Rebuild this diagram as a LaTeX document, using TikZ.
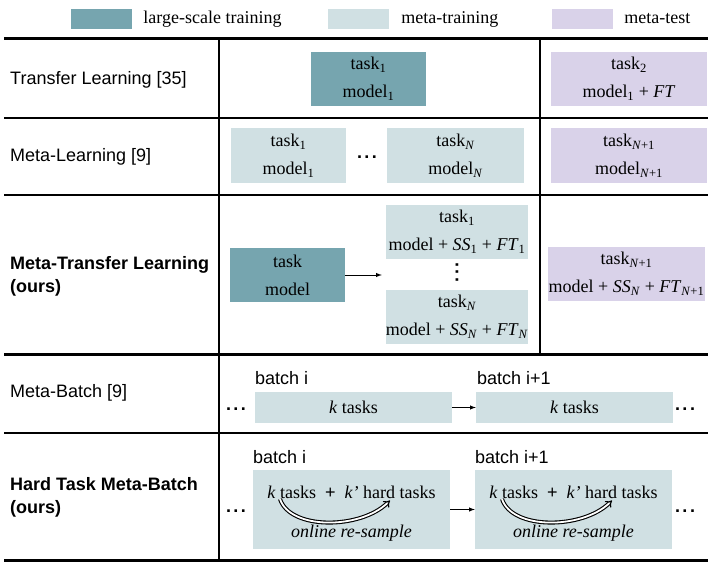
\documentclass[tikz,border=0pt]{standalone}
\usepackage{fontspec}
\setmainfont{Liberation Serif}
\setsansfont{Liberation Sans}
\usetikzlibrary{arrows.meta,positioning}

\definecolor{largecol}{HTML}{76A5AF}
\definecolor{traincol}{HTML}{D0E0E3}
\definecolor{testcol}{HTML}{D9D2E9}

\newcommand{\threedots}{.\hspace{2.5pt}.\hspace{2.5pt}.}

\begin{document}
\begin{tikzpicture}
  [x=1pt, y=-1pt,
  thickrule/.style={line width=3pt},
  thinrule/.style={line width=1.4pt},
  line/.style={draw, -latex, line width=1pt},
  box/.style={rectangle, inner sep=0pt, align=center, font=\fontsize{18}{28}\selectfont},
  large/.style={box, fill=largecol},
  train/.style={box, fill=traincol},
  test/.style={box, fill=testcol},
  rowlabel/.style={anchor=west, inner sep=0pt, align=left, font=\sffamily\fontsize{18}{23}\selectfont},
  batchlabel/.style={anchor=west, inner sep=0pt, font=\sffamily\fontsize{18}{22}\selectfont},
  legend/.style={anchor=west, inner sep=0pt, font=\fontsize{18}{20}\selectfont},
  swatch/.style={rectangle, minimum width=61pt, minimum height=20pt, inner sep=0pt},
  dots/.style={inner sep=0pt, font=\sffamily\bfseries\fontsize{18}{20}\selectfont},
  resample/.style={draw, double, double distance=1.8pt, line width=1.1pt, -{Implies}}]
  \useasboundingbox (0,0) rectangle (708,564);

  % legend
  \node [swatch, fill=largecol] (leglarge) at (101.5,19) {};
  \node [legend, right=11pt of leglarge] (leglargetext) {large-scale training};
  \node [swatch, fill=traincol] (legtrain) at (358.5,19) {};
  \node [legend, right=12pt of legtrain] (legtraintext) {meta-training};
  \node [swatch, fill=testcol] (legtest) at (582.5,19) {};
  \node [legend, right=11pt of legtest] (legtesttext) {meta-test};

  % rules
  \draw [thickrule] (4,39) -- (708,39);
  \draw [thinrule] (4,118) -- (708,118);
  \draw [thinrule] (4,195) -- (708,195);
  \draw [thickrule] (4,354) -- (708,354);
  \draw [thinrule] (4,433) -- (708,433);
  \draw [thickrule] (4,560) -- (708,560);
  \draw [thinrule] (219,39) -- (219,560);
  \draw [thinrule] (540,39) -- (540,354);

  % row labels
  \node [rowlabel] (tllabel) at (10,80) {Transfer Learning [35]};
  \node [rowlabel] (mllabel) at (10,157) {Meta-Learning [9]};
  \node [rowlabel, font=\sffamily\bfseries\fontsize{18}{23}\selectfont] (mtllabel) at (10,276) {Meta-Transfer Learning\\(ours)};
  \node [rowlabel] (mblabel) at (10,393) {Meta-Batch [9]};
  \node [rowlabel, font=\sffamily\bfseries\fontsize{18}{23}\selectfont] (htlabel) at (10,497) {Hard Task Meta-Batch\\(ours)};

  % transfer learning
  \node [large, minimum width=115pt, minimum height=54pt] (tltrain) at (368.5,79) {task\textsubscript{1}\\model\textsubscript{1}};
  \node [test, minimum width=156pt, minimum height=54pt] (tltest) at (629,79) {task\textsubscript{2}\\model\textsubscript{1} + \textit{FT}};

  % meta-learning
  \node [train, minimum width=115pt, minimum height=55pt] (mlfirst) at (288.5,155.5) {task\textsubscript{1}\\model\textsubscript{1}};
  \node [dots, anchor=base] (mldots) at (367,158) {\threedots};
  \node [train, minimum width=137pt, minimum height=55pt] (mllast) at (455.5,155.5) {task\textsubscript{\textit{N}}\\model\textsubscript{\textit{N}}};
  \node [test, minimum width=156pt, minimum height=55pt] (mltest) at (629,155.5) {task\textsubscript{\textit{N}+1}\\model\textsubscript{\textit{N}+1}};

  % meta-transfer learning
  \node [large, minimum width=115pt, minimum height=54pt] (mtlbase) at (287.5,275) {task\\model};
  \node [train, minimum width=142pt, minimum height=54pt] (mtlfirst) at (457,232) {task\textsubscript{1}\\model + \textit{SS}\textsubscript{1} + \textit{FT}\textsubscript{1}};
  \node [dots, rotate=90] (mtldots) at (457,272) {\threedots};
  \node [train, minimum width=142pt, minimum height=54pt] (mtllast) at (457,317) {task\textsubscript{\textit{N}}\\model + \textit{SS}\textsubscript{\textit{N}} + \textit{FT}\textsubscript{\textit{N}}};
  \node [test, minimum width=157pt, minimum height=54pt] (mtltest) at (626.5,274) {task\textsubscript{\textit{N}+1}\\model + \textit{SS}\textsubscript{\textit{N}} + \textit{FT}\textsubscript{\textit{N}+1}};

  % meta-batch
  \node [batchlabel] (mbfirstlabel) at (255,378) {batch i};
  \node [batchlabel] (mbnextlabel) at (477,378) {batch i+1};
  \node [train, minimum width=197pt, minimum height=31pt] (mbfirst) at (353.5,407.5) {\textit{k} tasks};
  \node [train, minimum width=197pt, minimum height=31pt] (mbnext) at (574.5,407.5) {\textit{k} tasks};
  \node [dots, anchor=base] (mbdotsleft) at (236,410) {\threedots};
  \node [dots, anchor=base] (mbdotsright) at (685,410) {\threedots};

  % hard task meta-batch
  \node [batchlabel] (htfirstlabel) at (253,457) {batch i};
  \node [batchlabel] (htnextlabel) at (475,457) {batch i+1};
  \node [train, minimum width=197pt, minimum height=79pt] (htfirst) at (351.5,509.5) {};
  \node [train, minimum width=197pt, minimum height=79pt] (htnext) at (573.5,509.5) {};
  \node [box, yshift=17.5pt] (htfirsttop) at (htfirst) {\textit{k} tasks\ \ \textsf{+}\ \ \textit{k’} hard tasks};
  \node [box, yshift=-23.5pt] (htfirstbot) at (htfirst) {\textit{online re-sample}};
  \node [box, yshift=17.5pt] (htnexttop) at (htnext) {\textit{k} tasks\ \ \textsf{+}\ \ \textit{k’} hard tasks};
  \node [box, yshift=-23.5pt] (htnextbot) at (htnext) {\textit{online re-sample}};
  \coordinate [xshift=-71.5pt, yshift=10.5pt] (htfirsts) at (htfirst);
  \coordinate [xshift=38.5pt, yshift=9pt] (htfirste) at (htfirst);
  \coordinate [xshift=-71.5pt, yshift=10.5pt] (htnexts) at (htnext);
  \coordinate [xshift=38.5pt, yshift=9pt] (htnexte) at (htnext);
  \node [dots, anchor=base] (htdotsleft) at (236,512) {\threedots};
  \node [dots, anchor=base] (htdotsright) at (685,512) {\threedots};

  % edges
  \path [line] (mtlbase.east) -- ([xshift=-4pt]mtlbase.east -| mtlfirst.west);
  \path [line] (mbfirst) -- (mbnext);
  \path [line] (htfirst) -- (htnext);
  \path [resample] (htfirsts) .. controls +(10,31) and +(-30,29) .. (htfirste);
  \path [resample] (htnexts) .. controls +(10,31) and +(-30,29) .. (htnexte);

\end{tikzpicture}
\end{document}
